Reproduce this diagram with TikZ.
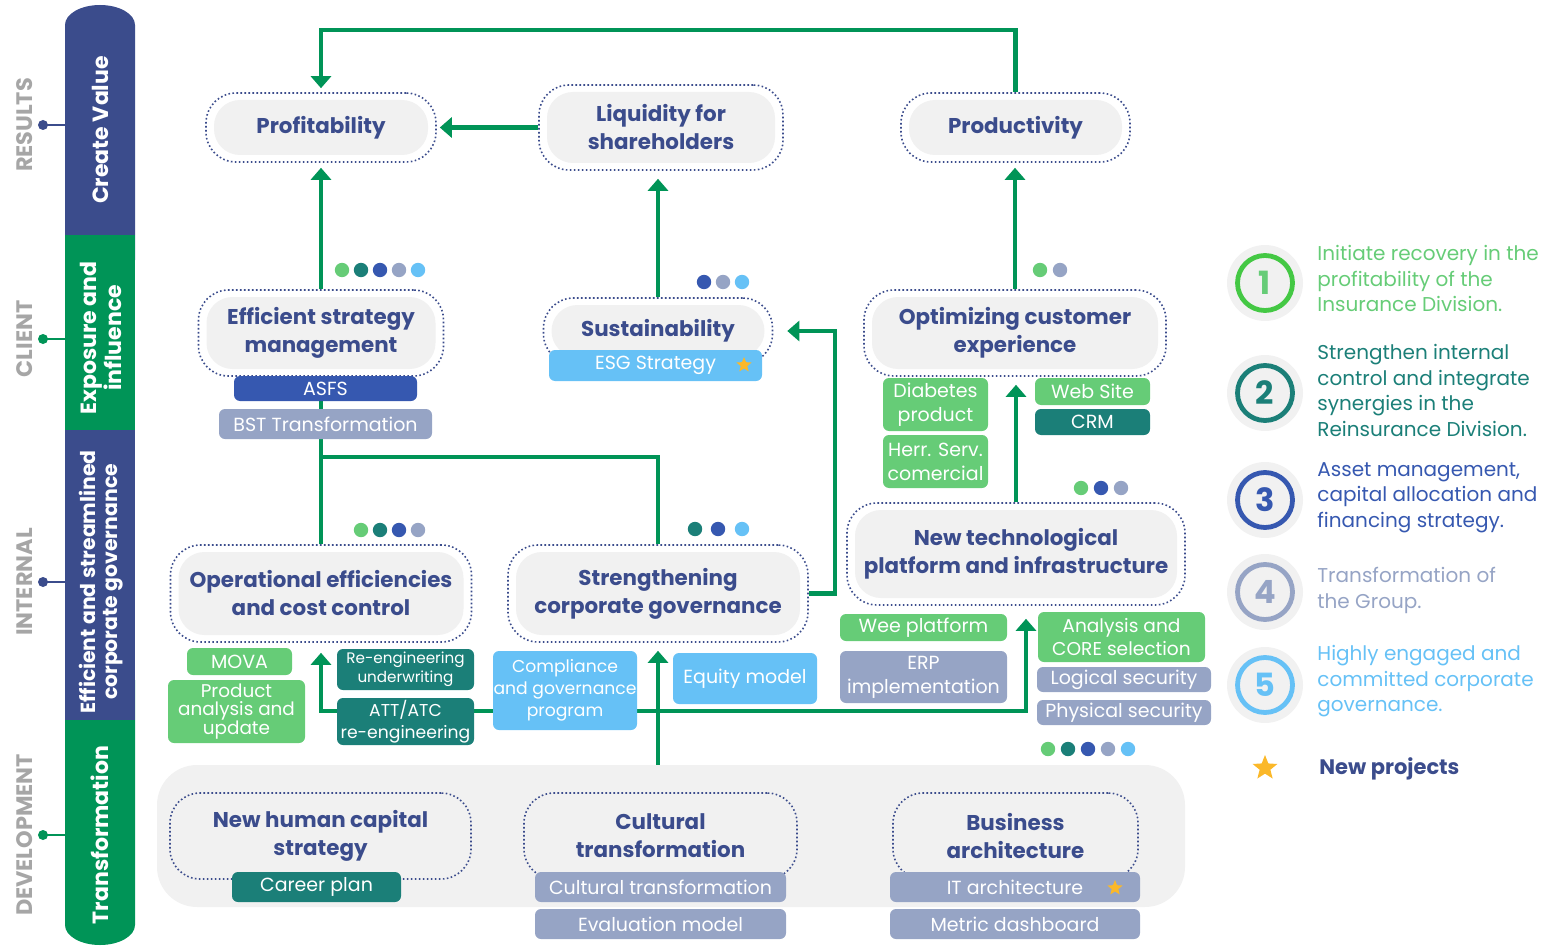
\documentclass[tikz,border=0pt]{standalone}
\usepackage{fontspec}
\setmainfont{Poppins}
\usetikzlibrary{arrows.meta,shapes.geometric,calc}

\definecolor{navy}{HTML}{3B4C8C}
\definecolor{sgreen}{HTML}{009457}
\definecolor{lgreen}{HTML}{66CC77}
\definecolor{tealc}{HTML}{1B7F78}
\definecolor{blueb}{HTML}{3658B0}
\definecolor{gblue}{HTML}{96A4C5}
\definecolor{lblue}{HTML}{66C1F6}
\definecolor{bgg}{HTML}{F1F1F1}
\definecolor{staro}{HTML}{FBB829}
\definecolor{lgray}{HTML}{A6A6A6}
\definecolor{ringg}{HTML}{44C844}

\newcommand\mytitlef{\fontsize{10.7pt}{14pt}\selectfont\bfseries}
\newcommand\mytagf{\fontsize{9.5pt}{12pt}\selectfont}
\newcommand\mylegf{\fontsize{10pt}{12.75pt}\selectfont}
\newcommand\mysidef{\fontsize{11pt}{11pt}\selectfont\bfseries}
\newcommand\mylabf{\fontsize{11.2pt}{11pt}\selectfont\bfseries}
\newcommand\mynumf{\fontsize{16pt}{16pt}\selectfont\bfseries}

\tikzset{
  wh/.style 2 args={minimum width=#1*0.5pt, minimum height=#2*0.5pt},
  mainnode/.style={draw=navy, line width=0.8pt, dash pattern=on 0.8pt off 1.2pt,
    fill=white, rounded corners=15pt, text=navy, font=\mytitlef, align=center, inner sep=0pt,
    path picture={\fill[bgg, rounded corners=13pt]
      ($(path picture bounding box.south west)+(4pt,3.5pt)$) rectangle
      ($(path picture bounding box.north east)-(4pt,3.5pt)$);}},
  botnode/.style={draw=navy, line width=0.8pt, dash pattern=on 0.8pt off 1.2pt,
    rounded corners=15pt, text=navy, font=\mytitlef, align=center, inner sep=0pt},
  tagbox/.style={rounded corners=3pt, text=white, font=\mytagf, align=center, inner sep=0pt},
  conn/.style={draw=sgreen, line width=2.25pt},
  arr/.style={conn, -{Triangle[width=10pt,length=6pt]}},
  sidetxt/.style={rotate=90, text=white, font=\mysidef, align=center},
  sidelab/.style={rotate=90, text=lgray, font=\mylabf},
  legtxt/.style={anchor=west, align=left, font=\mylegf, inner sep=0pt},
  ring/.style={circle, line width=2.4pt, minimum size=27.5pt, inner sep=0pt, font=\mynumf},
  starn/.style={star, star points=5, star point ratio=2.3, fill=staro, inner sep=0pt},
}

\begin{document}
\begin{tikzpicture}[x=0.5pt,y=-0.5pt]
\useasboundingbox (0,0) rectangle (1542,947);

% ---------- sidebar ----------
\fill[sgreen] (65,680) -- (65,925) arc[start angle=180,end angle=360,x radius=17.5pt,y radius=10pt] -- (135,680) -- cycle;
\fill[navy] (65,260) -- (65,25) arc[start angle=180,end angle=0,x radius=17.5pt,y radius=10pt] -- (135,260) -- cycle;
\fill[sgreen] (65,235) rectangle (135,430);
\fill[navy] (65,430) rectangle (135,720);

\node[sidetxt] (sv1) at (100,130) {Create Value};
\node[sidetxt] (sv2) at (101,338) {Exposure and\\influence};
\node[sidetxt, font=\fontsize{10.2pt}{11pt}\selectfont\bfseries] (sv3) at (101,582) {Efficient and streamlined\\corporate governance};
\node[sidetxt] (sv4) at (100,835) {Transformation};

\node[sidelab] (lab1) at (25,125) {RESULTS};
\node[sidelab] (lab2) at (25,339) {CLIENT};
\node[sidelab] (lab3) at (25,582) {INTERNAL};
\node[sidelab] (lab4) at (25,835) {DEVELOPMENT};
\draw[navy, line width=1pt] (43,125) -- (65,125); \fill[navy] (43,125) circle[radius=2.5pt];
\draw[sgreen, line width=1pt] (43,339) -- (65,339); \fill[sgreen] (43,339) circle[radius=2.5pt];
\draw[navy, line width=1pt] (43,582) -- (65,582); \fill[navy] (43,582) circle[radius=2.5pt];
\draw[sgreen, line width=1pt] (43,835) -- (65,835); \fill[sgreen] (43,835) circle[radius=2.5pt];

% ---------- bottom band ----------
\node[fill=bgg, rounded corners=20pt, wh={1028}{142}, inner sep=0pt] (band) at (671,836) {};

% ---------- main nodes ----------
\node[mainnode, wh={230}{69}] (prof) at (321,127.5) {Profitability};
\node[mainnode, wh={244}{85}] (liq) at (661,127.5) {Liquidity for\\shareholders};
\node[mainnode, wh={229}{69}] (prod) at (1015.5,127.5) {Productivity};
\node[mainnode, wh={245}{86}] (esm) at (321,333) {Efficient strategy\\management};
\node[mainnode, wh={229}{66}] (sus) at (658,331) {Sustainability};
\node[mainnode, wh={302}{86}] (oce) at (1015,333) {Optimizing customer\\experience};
\node[mainnode, wh={301}{97}] (oec) at (321,593.5) {Operational efficiencies\\and cost control};
\node[mainnode, wh={300}{97}] (scg) at (658,593.5) {Strengthening\\corporate governance};
\node[mainnode, wh={338}{102}] (ntp) at (1016,554) {New technological\\platform and infrastructure};
\node[botnode, wh={301}{86}] (hcs) at (320.5,836) {New human capital\\strategy};
\node[botnode, wh={273}{86}] (ctr) at (660.5,836) {Cultural\\transformation};
\node[botnode, wh={245}{86}] (bar) at (1015.5,836) {Business\\architecture};

% ---------- connectors ----------
\coordinate (topy) at (0,30);
\coordinate (j1) at (321,457);
\coordinate (rj) at (835,0);
\coordinate (hr) at (1026,711);
\draw[arr, shorten >=2pt] (prod.north) -- (prod.north |- topy) -| (prof.north);
\draw[arr, shorten >=1.5pt] (liq.west) -- (prof.east);
\draw[arr, shorten >=2.5pt] (esm.north) -- (esm.north |- prof.south);
\draw[arr, shorten >=4pt] (sus.north) -- (sus.north |- liq.south);
\draw[arr, shorten >=2.5pt] (oce.north) -- (oce.north |- prod.south);
\draw[conn] (scg.north) |- (j1) -- (esm.south);
\draw[conn] (oec.north) -- (j1);
\draw[arr, shorten >=7pt] (scg.east) -| (rj |- sus.east) -- (sus.east);
\draw[arr, shorten >=4pt] (ntp.north) -- (ntp.north |- oce.south);
\draw[arr, shorten >=4pt] (band.north -| scg.south) -- (scg.south);
\draw[arr, shorten >=5pt] (hr -| scg.south) -| (oec.south);
\draw[arr, shorten >=6.5pt] (hr -| scg.south) -- (hr) -- (hr |- ntp.south);

% ---------- tags ----------
\node[tagbox, fill=blueb, wh={183}{25}] (asfs) at (325.5,388.5) {ASFS};
\node[tagbox, fill=gblue, wh={213}{30}] (bst) at (325.5,424) {BST Transformation};
\node[tagbox, fill=lblue, wh={213}{31}] (esg) at (655.5,365.5) {ESG Strategy};
\node[starn, minimum size=8pt] (st1) at (744,365) {};
\node[tagbox, fill=lgreen, wh={105}{53}] (diab) at (935.5,404.5) {Diabetes\\product};
\node[tagbox, fill=lgreen, wh={105}{53}] (herr) at (935.5,461.5) {Herr. Serv.\\comercial};
\node[tagbox, fill=lgreen, wh={115}{27}] (web) at (1092.5,391.5) {Web Site};
\node[tagbox, fill=tealc, wh={115}{26}] (crm) at (1092.5,422) {CRM};
\node[tagbox, fill=lgreen, wh={105}{27}] (mova) at (239.5,661.5) {MOVA};
\node[tagbox, fill=lgreen, wh={137}{63}, font=\fontsize{9.2pt}{9.3pt}\selectfont] (pau) at (236.5,711.5) {Product\\analysis and\\update};
\node[tagbox, fill=tealc, wh={137}{41}, font=\fontsize{7.6pt}{9.5pt}\selectfont] (reu) at (405.5,669.5) {Re-engineering\\underwriting};
\node[tagbox, fill=tealc, wh={137}{47}, font=\fontsize{8.6pt}{11pt}\selectfont] (att) at (405.5,721.5) {ATT/ATC\\re-engineering};
\node[tagbox, fill=lblue, wh={144}{79}, font=\fontsize{8.6pt}{11pt}\selectfont] (comp) at (565,690.5) {Compliance\\and governance\\program};
\node[tagbox, fill=lblue, wh={144}{51}] (eq) at (745,678.5) {Equity model};
\node[tagbox, fill=lgreen, wh={167}{27}] (wee) at (923.5,627.5) {Wee platform};
\node[tagbox, fill=gblue, wh={167}{52}] (erp) at (923.5,677) {ERP\\implementation};
\node[tagbox, fill=lgreen, wh={167}{50}, font=\fontsize{9.3pt}{11.5pt}\selectfont] (core) at (1121.5,637) {Analysis and\\CORE selection};
\node[tagbox, fill=gblue, wh={174}{25}] (logi) at (1124,679.5) {Logical security};
\node[tagbox, fill=gblue, wh={174}{25}] (phys) at (1124,712.5) {Physical security};
\node[tagbox, fill=tealc, wh={169}{30}] (car) at (316.5,887) {Career plan};
\node[tagbox, fill=gblue, wh={251}{30}] (ctb) at (660.5,887) {Cultural transformation};
\node[tagbox, fill=gblue, wh={251}{30}] (evm) at (660.5,924) {Evaluation model};
\node[tagbox, fill=gblue, wh={250}{30}] (ita) at (1015,887) {IT architecture};
\node[starn, minimum size=8pt] (st2) at (1115,888) {};
\node[tagbox, fill=gblue, wh={250}{30}] (mdb) at (1015,924) {Metric dashboard};

% ---------- dots ----------
\foreach \x/\c in {342/lgreen,361/tealc,380/blueb,399/gblue,418/lblue} \fill[\c] (\x,270) circle[radius=3.6pt];
\foreach \x/\c in {704/blueb,723/gblue,742/lblue} \fill[\c] (\x,282) circle[radius=3.6pt];
\foreach \x/\c in {1040/lgreen,1060/gblue} \fill[\c] (\x,270) circle[radius=3.6pt];
\foreach \x/\c in {1081/lgreen,1101/blueb,1121/gblue} \fill[\c] (\x,488) circle[radius=3.6pt];
\foreach \x/\c in {361/lgreen,380/tealc,399/blueb,418/gblue} \fill[\c] (\x,530) circle[radius=3.6pt];
\foreach \x/\c in {695/tealc,718/blueb,742/lblue} \fill[\c] (\x,529) circle[radius=3.6pt];
\foreach \x/\c in {1048/lgreen,1068/tealc,1088/blueb,1108/gblue,1128/lblue} \fill[\c] (\x,749) circle[radius=3.6pt];

% ---------- legend ----------
\foreach \y in {283,393,500,592,685} \fill[bgg] (1265,\y) circle[radius=19pt];
\node[ring, draw=ringg, text=lgreen] (n1) at (1265,283) {1};
\node[ring, draw=tealc, text=tealc] (n2) at (1265,393) {2};
\node[ring, draw=blueb, text=blueb] (n3) at (1265,500) {3};
\node[ring, draw=gblue, text=gblue] (n4) at (1265,592) {4};
\node[ring, draw=lblue, text=lblue] (n5) at (1265,685) {5};
\node[legtxt, text=lgreen] (t1) at (1317,278.5) {Initiate recovery in the\\profitability of the\\Insurance Division.};
\node[legtxt, text=tealc] (t2) at (1317,390.5) {Strengthen internal\\control and integrate\\synergies in the\\Reinsurance Division.};
\node[legtxt, text=blueb] (t3) at (1317,497.5) {Asset management,\\capital allocation and\\financing strategy.};
\node[legtxt, text=gblue] (t4) at (1317,590.5) {Transformation of\\the Group.};
\node[legtxt, text=lblue] (t5) at (1317,681.5) {Highly engaged and\\committed corporate\\governance.};
\node[starn, minimum size=13pt] (st3) at (1265,768) {};
\node[legtxt, text=navy, font=\fontsize{10.5pt}{12pt}\selectfont\bfseries] (t6) at (1319,769) {New projects};
\end{tikzpicture}
\end{document}
